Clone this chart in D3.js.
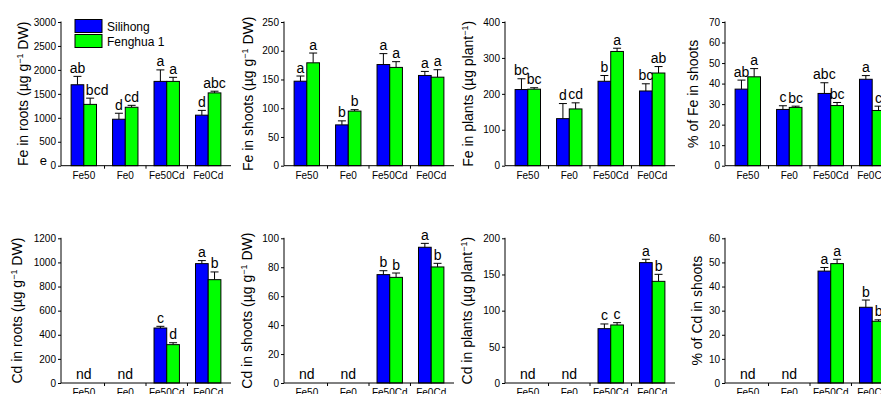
<!DOCTYPE html>
<html>
<head>
<meta charset="utf-8">
<script src="https://cdn.jsdelivr.net/npm/d3@7/dist/d3.min.js"></script>
<style>
  body { margin: 0; background: #fff; }
  text { font-family: Arial, "Liberation Sans", sans-serif; fill: #000; }
</style>
</head>
<body>
<svg id="chart" width="881" height="394"></svg>
<script>
// categories and series
var treatments = ["Fe50", "Fe0", "Fe50Cd", "Fe0Cd"];
var cultivars = ["Silihong", "Fenghua 1"];
var colors = ["#0000ff", "#00ff00"];

// Fe in roots
var feRootS = [1690, 970, 1760, 1055], feRootSErr = [175, 125, 240, 100];
var feRootF = [1280, 1220, 1760, 1520], feRootFErr = [130, 40, 85, 35];
var feRootSLet = ["ab", "d", "a", "d"], feRootFLet = ["bcd", "cd", "a", "abc"];
// Fe in shoots
var feShootS = [147, 71, 176, 157], feShootSErr = [9, 7, 19, 7];
var feShootF = [179, 95, 171, 154], feShootFErr = [17, 2.5, 10, 13];
var feShootSLet = ["a", "b", "a", "a"], feShootFLet = ["a", "b", "a", "a"];
// Fe in plants
var fePlantS = [212, 131, 235, 208], fePlantSErr = [30, 42, 16, 20];
var fePlantF = [213, 158, 318, 258], fePlantFErr = [4, 17, 9, 18];
var fePlantSLet = ["bc", "d", "b", "bc"], fePlantFLet = ["bc", "cd", "a", "ab"];
// % of Fe in shoots
var fePctS = [37.3, 27.4, 35.2, 42.1], fePctSErr = [4.4, 1.8, 5.2, 1.8];
var fePctF = [43.3, 28.4, 29.3, 26.9], fePctFErr = [4, 0.6, 1.5, 2.1];
var fePctSLet = ["ab", "c", "abc", "a"], fePctFLet = ["a", "bc", "bc", "c"];
// Cd in roots
var cdRootS = [null, null, 456, 990], cdRootSErr = [0, 0, 14, 25];
var cdRootF = [null, null, 318, 857], cdRootFErr = [0, 0, 16, 64];
var cdRootSLet = ["nd", "nd", "c", "a"], cdRootFLet = ["", "", "d", "b"];
// Cd in shoots
var cdShootS = [null, null, 74.9, 93.8], cdShootSErr = [0, 0, 2.7, 2.7];
var cdShootF = [null, null, 73, 80.2], cdShootFErr = [0, 0, 3, 2.5];
var cdShootSLet = ["nd", "nd", "b", "a"], cdShootFLet = ["", "", "b", "b"];
// Cd in plants
var cdPlantS = [null, null, 75.1, 166.4], cdPlantSErr = [0, 0, 6.5, 4.6];
var cdPlantF = [null, null, 80.2, 140.5], cdPlantFErr = [0, 0, 3.2, 9.7];
var cdPlantSLet = ["nd", "nd", "c", "a"], cdPlantFLet = ["", "", "c", "b"];
// % of Cd in shoots
var cdPctS = [null, null, 46.4, 31.4], cdPctSErr = [0, 0, 1.5, 3];
var cdPctF = [null, null, 49.5, 25.6], cdPctFErr = [0, 0, 1.8, 0.6];
var cdPctSLet = ["nd", "nd", "a", "b"], cdPctFLet = ["", "", "a", "b"];

// y-axis ticks
var feRootTicks = [0, 500, 1000, 1500, 2000, 2500, 3000];
var feShootTicks = [0, 50, 100, 150, 200, 250];
var fePlantTicks = [0, 100, 200, 300, 400];
var fePctTicks = [0, 10, 20, 30, 40, 50, 60, 70];
var cdRootTicks = [0, 200, 400, 600, 800, 1000, 1200];
var cdShootTicks = [0, 20, 40, 60, 80, 100];
var cdPlantTicks = [0, 50, 100, 150, 200];
var cdPctTicks = [0, 10, 20, 30, 40, 50, 60];

var panels = [
  { title: ["Fe in roots (\u00b5g g", "\u22121", " DW)"], ticks: feRootTicks,
    s: feRootS, se: feRootSErr, f: feRootF, fe: feRootFErr, sl: feRootSLet, fl: feRootFLet },
  { title: ["Fe in shoots (\u00b5g g", "\u22121", " DW)"], ticks: feShootTicks,
    s: feShootS, se: feShootSErr, f: feShootF, fe: feShootFErr, sl: feShootSLet, fl: feShootFLet },
  { title: ["Fe in plants (\u00b5g plant", "\u22121", ")"], ticks: fePlantTicks,
    s: fePlantS, se: fePlantSErr, f: fePlantF, fe: fePlantFErr, sl: fePlantSLet, fl: fePlantFLet },
  { title: ["% of Fe in shoots"], ticks: fePctTicks,
    s: fePctS, se: fePctSErr, f: fePctF, fe: fePctFErr, sl: fePctSLet, fl: fePctFLet },
  { title: ["Cd in roots (\u00b5g g", "\u22121", " DW)"], ticks: cdRootTicks,
    s: cdRootS, se: cdRootSErr, f: cdRootF, fe: cdRootFErr, sl: cdRootSLet, fl: cdRootFLet },
  { title: ["Cd in shoots (\u00b5g g", "\u22121", " DW)"], ticks: cdShootTicks,
    s: cdShootS, se: cdShootSErr, f: cdShootF, fe: cdShootFErr, sl: cdShootSLet, fl: cdShootFLet },
  { title: ["Cd in plants (\u00b5g plant", "\u22121", ")"], ticks: cdPlantTicks,
    s: cdPlantS, se: cdPlantSErr, f: cdPlantF, fe: cdPlantFErr, sl: cdPlantSLet, fl: cdPlantFLet },
  { title: ["% of Cd in shoots"], ticks: cdPctTicks,
    s: cdPctS, se: cdPctSErr, f: cdPctF, fe: cdPctFErr, sl: cdPctSLet, fl: cdPctFLet }
];

// layout of the 2 x 4 grid
var colX = [61, 284, 505, 725];
var rowY = [[22, 165.7], [238.3, 383]];
var titleOff = [38, 36, 37, 32, 44, 37, 38, 28];
var plotW = 170;

var svg = d3.select("#chart");

panels.forEach(function (p, k) {
  var row = Math.floor(k / 4), col = k % 4;
  var top = rowY[row][0], bottom = rowY[row][1];
  var g = svg.append("g").attr("transform", "translate(" + colX[col] + ",0)");

  var x = d3.scaleBand().domain(treatments).range([0, plotW])
      .paddingInner(0).paddingOuter(0.05);
  var xs = d3.scaleBand().domain(cultivars).range([0, 25.4]);
  var y = d3.scaleLinear().domain([0, p.ticks[p.ticks.length - 1]]).range([bottom, top]);

  var rows = [];
  treatments.forEach(function (t, i) {
    rows.push({ t: t, c: cultivars[0], v: p.s[i], e: p.se[i], l: p.sl[i], ci: 0 });
    rows.push({ t: t, c: cultivars[1], v: p.f[i], e: p.fe[i], l: p.fl[i], ci: 1 });
  });
  function bx(d) { return x(d.t) + x.bandwidth() / 2 - 12.7 + xs(d.c); }

  var bars = rows.filter(function (d) { return d.v != null; });

  // error bars (upper only)
  bars.forEach(function (d) {
    var cx = bx(d) + xs.bandwidth() / 2;
    g.append("line").attr("x1", cx).attr("x2", cx)
      .attr("y1", y(d.v)).attr("y2", y(d.v + d.e))
      .attr("stroke", "#000").attr("stroke-width", 1);
    g.append("line").attr("x1", cx - 4).attr("x2", cx + 4)
      .attr("y1", y(d.v + d.e)).attr("y2", y(d.v + d.e))
      .attr("stroke", "#000").attr("stroke-width", 1);
  });

  g.selectAll("rect.bar").data(bars).enter().append("rect")
    .attr("class", "bar")
    .attr("x", bx)
    .attr("y", function (d) { return y(d.v); })
    .attr("width", xs.bandwidth())
    .attr("height", function (d) { return y(0) - y(d.v); })
    .attr("fill", function (d) { return colors[d.ci]; })
    .attr("stroke", "#000").attr("stroke-width", 1);

  // significance letters ("bcd" sits a bit to the right so it clears "ab")
  g.selectAll("text.sig").data(rows.filter(function (d) { return d.l; })).enter()
    .append("text").attr("class", "sig")
    .attr("x", function (d) {
      if (d.v == null) return x(d.t) + x.bandwidth() / 2;
      var shift = d.l === "bcd" ? 7 : 0;
      return bx(d) + xs.bandwidth() / 2 + shift;
    })
    .attr("y", function (d) {
      return d.v == null ? y(0) - 4 : y(d.v + d.e) - 3.5;
    })
    .attr("text-anchor", "middle")
    .attr("font-size", 14)
    .text(function (d) { return d.l; });

  // axes
  var yAxis = d3.axisLeft(y).tickValues(p.ticks).tickSize(3).tickPadding(2)
    .tickFormat(d3.format("d"));
  var ya = g.append("g").call(yAxis);
  ya.selectAll("text").attr("font-size", 10).attr("fill", "#222");
  ya.select(".domain").attr("d", "M0," + (top - 0.5) + "V" + bottom);

  var xa = g.append("g").attr("transform", "translate(0," + bottom + ")")
    .call(d3.axisBottom(x).tickSize(0).tickPadding(6));
  xa.select(".domain").attr("d", "M0,0H" + plotW);
  xa.selectAll("text").attr("font-size", 10).attr("fill", "#222");
  treatments.slice(1).forEach(function (t) {
    xa.append("line").attr("x1", x(t)).attr("x2", x(t)).attr("y1", 0).attr("y2", 3)
      .attr("stroke", "#000");
  });

  // y title
  var tt = g.append("text")
    .attr("transform", "translate(" + (-titleOff[k]) + "," + ((top + bottom) / 2) + ") rotate(-90)")
    .attr("text-anchor", "middle").attr("dy", "0.35em").attr("font-size", 14);
  tt.append("tspan").text(p.title[0]);
  if (p.title.length > 1) {
    tt.append("tspan").attr("dy", -5).attr("font-size", 9).text(p.title[1]);
    tt.append("tspan").attr("dy", 5).text(p.title[2]);
  }

  if (k === 0) {
    // stray letter next to the zero tick
    g.append("text").attr("x", -14).attr("y", y(0) - 1)
      .attr("text-anchor", "end").attr("font-size", 13).text("e");

    // legend
    var lg = g.append("g").attr("transform", "translate(14,19.5)");
    cultivars.forEach(function (c, i) {
      lg.append("rect").attr("x", 0).attr("y", i * 15).attr("width", 27).attr("height", 13)
        .attr("fill", colors[i]).attr("stroke", "#000");
      lg.append("text").attr("x", 32).attr("y", i * 15 + 11)
        .attr("font-size", 12).text(c);
    });
  }
});
</script>
</body>
</html>
